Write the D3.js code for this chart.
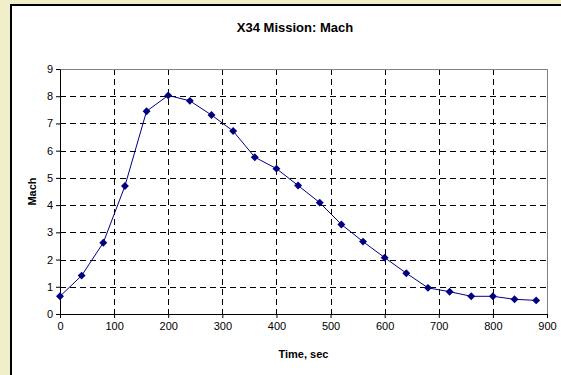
<!DOCTYPE html>
<html>
<head>
<meta charset="utf-8">
<script src="https://cdn.jsdelivr.net/npm/d3@7"></script>
<style>
  body { margin: 0; background: #f1efc9; }
  svg { display: block; }
</style>
</head>
<body>
<script>
// X34 mission, Mach number against time
var times = [0, 40, 80, 120, 160, 200, 240, 280, 320, 360, 400, 440,
             480, 520, 560, 600, 640, 680, 720, 760, 800, 840, 880];
var mach  = [0.65, 1.41, 2.62, 4.7, 7.45, 8.03, 7.83, 7.31, 6.72, 5.76, 5.34, 4.72,
             4.09, 3.29, 2.66, 2.07, 1.5, 0.96, 0.82, 0.65, 0.65, 0.54, 0.5];
var xTicks = [0, 100, 200, 300, 400, 500, 600, 700, 800, 900];
var yTicks = [0, 1, 2, 3, 4, 5, 6, 7, 8, 9];

var W = 561, H = 375;
var margin = {top: 69, right: 14, bottom: 61, left: 60},
    width = W - margin.left - margin.right,
    height = H - margin.top - margin.bottom;

var svg = d3.select("body").append("svg")
    .attr("width", W)
    .attr("height", H)
    .style("font-family", "'Liberation Sans', Arial, sans-serif");

// white chart area with the black frame on left and top
svg.append("rect")
    .attr("x", 11).attr("y", 5)
    .attr("width", W).attr("height", H)
    .attr("fill", "#fff");
svg.append("path")
    .attr("d", "M11," + H + "V5H" + W)
    .attr("fill", "none")
    .attr("stroke", "#000")
    .attr("stroke-width", 2);

svg.append("text")
    .attr("x", 295).attr("y", 32)
    .attr("text-anchor", "middle")
    .style("font-weight", "bold")
    .style("font-size", "13px")
    .text("X34 Mission: Mach");

var g = svg.append("g")
    .attr("transform", "translate(" + margin.left + "," + margin.top + ")");

var x = d3.scaleLinear().domain([0, 900]).range([0, width]);
var y = d3.scaleLinear().domain([0, 9]).range([height, 0]);

// dashed grid
g.selectAll("line.hgrid")
    .data(yTicks.slice(1, -1)).enter()
    .append("line")
    .attr("class", "hgrid")
    .attr("x1", 0).attr("x2", width)
    .attr("y1", function(d) { return Math.round(y(d)) + 0.5; })
    .attr("y2", function(d) { return Math.round(y(d)) + 0.5; })
    .attr("stroke", "#000")
    .attr("stroke-dasharray", "6,4");

g.selectAll("line.vgrid")
    .data(xTicks.slice(1, -1)).enter()
    .append("line")
    .attr("class", "vgrid")
    .attr("y1", 0).attr("y2", height)
    .attr("x1", function(d) { return Math.round(x(d)) + 0.5; })
    .attr("x2", function(d) { return Math.round(x(d)) + 0.5; })
    .attr("stroke", "#000")
    .attr("stroke-dasharray", "6,4");

// grey top and right border of plot
g.append("path")
    .attr("d", "M0,0.5H" + (Math.round(width) + 0.5) + "V" + height)
    .attr("fill", "none")
    .attr("stroke", "#808080");

var xAxis = g.append("g")
    .attr("transform", "translate(0," + height + ")")
    .call(d3.axisBottom(x).tickValues(xTicks).tickSize(4).tickPadding(4).tickSizeOuter(0));
var yAxis = g.append("g")
    .call(d3.axisLeft(y).tickValues(yTicks).tickSize(4).tickPadding(3).tickSizeOuter(0));

[xAxis, yAxis].forEach(function(a) {
    a.selectAll("text").style("font-size", "11px").attr("fill", "#000")
        .style("font-family", "'Liberation Sans', Arial, sans-serif");
    a.selectAll("line").attr("stroke", "#000");
    a.select(".domain").attr("stroke", "#000");
});

svg.append("text")
    .attr("x", margin.left + width / 2)
    .attr("y", 358)
    .attr("text-anchor", "middle")
    .style("font-weight", "bold")
    .style("font-size", "11px")
    .text("Time, sec");

svg.append("text")
    .attr("transform", "translate(36," + (margin.top + height / 2) + ") rotate(-90)")
    .attr("text-anchor", "middle")
    .style("font-weight", "bold")
    .style("font-size", "11px")
    .text("Mach");

var pts = times.map(function(t, i) { return [t, mach[i]]; });

g.append("path")
    .datum(pts)
    .attr("fill", "none")
    .attr("stroke", "#000080")
    .attr("stroke-width", 1)
    .attr("d", d3.line()
        .x(function(d) { return x(d[0]); })
        .y(function(d) { return y(d[1]); }));

g.selectAll("path.pt")
    .data(pts).enter()
    .append("path")
    .attr("class", "pt")
    .attr("transform", function(d) { return "translate(" + x(d[0]) + "," + y(d[1]) + ")"; })
    .attr("d", d3.symbol().type(d3.symbolDiamond2).size(40))
    .attr("fill", "#000080");
</script>
</body>
</html>
